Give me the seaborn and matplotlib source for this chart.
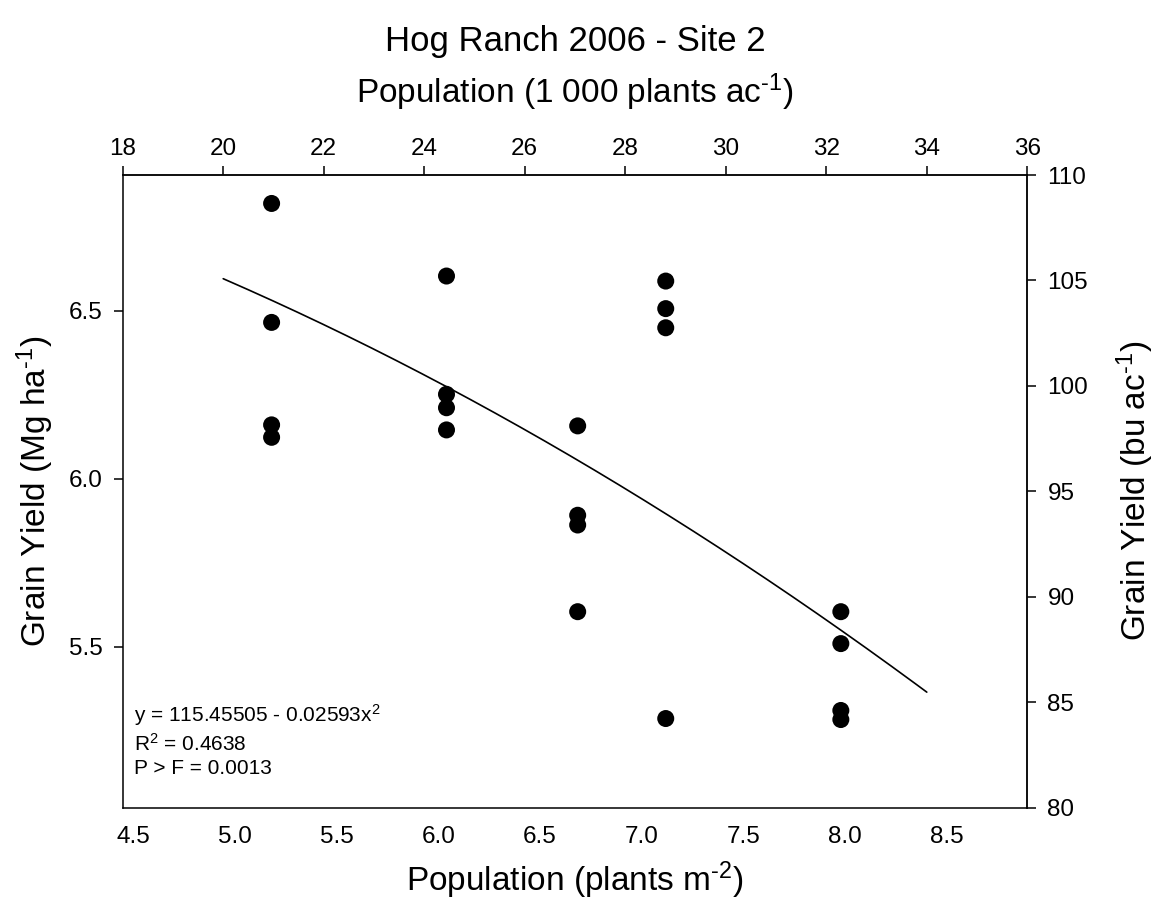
import numpy as np
import pandas as pd
import matplotlib
matplotlib.use("Agg")
import matplotlib.pyplot as plt
import seaborn as sns

# ---------------- data ----------------
pop_m2 = [5.18, 5.18, 5.18, 5.18,
          6.04, 6.04, 6.04, 6.04,
          6.685, 6.685, 6.685, 6.685,
          7.118, 7.118, 7.118, 7.118,
          7.979, 7.979, 7.979, 7.979]
yield_mg = [6.820, 6.466, 6.161, 6.124,
            6.604, 6.252, 6.212, 6.146,
            6.158, 5.892, 5.863, 5.605,
            6.589, 6.507, 6.450, 5.287,
            5.605, 5.510, 5.311, 5.284]

# fitted model printed on the chart: y(bu/ac) = b0 - b2 * x(1000 plants/ac)^2
b0 = 115.45505
b2 = 0.02593
fit_range_kpa = [20.0, 34.0]   # range of the drawn curve, 1000 plants/ac

bottom_ticks = [4.5, 5.0, 5.5, 6.0, 6.5, 7.0, 7.5, 8.0, 8.5]
left_ticks = [5.5, 6.0, 6.5]
top_ticks = [18, 20, 22, 24, 26, 28, 30, 32, 34, 36]
right_ticks = [80, 85, 90, 95, 100, 105, 110]

title = "Hog Ranch 2006 - Site 2"
HY = "\u2010"  # hyphen used in the superscripts
xlabel_bottom = "Population (plants m$^{" + HY + "2}$)"
xlabel_top = "Population (1 000 plants ac$^{" + HY + "1}$)"
ylabel_left = "Grain Yield (Mg ha$^{" + HY + "1}$)"
ylabel_right = "Grain Yield (bu ac$^{" + HY + "1}$)"
eq_lines = ["y = 115.45505 - 0.02593x$^{2}$", "R$^{2}$ = 0.4638", "P > F = 0.0013"]

# unit conversions
M2_TO_KPA = 4.04686      # plants m-2 -> 1000 plants ac-1
BU_TO_MG = 0.06277       # bu ac-1 -> Mg ha-1

# ---------------- style ----------------
sns.set_theme(style="white")
plt.rcParams["font.family"] = ["Liberation Sans", "DejaVu Sans"]
plt.rcParams["mathtext.fontset"] = "custom"
plt.rcParams["mathtext.rm"] = "Liberation Sans"
plt.rcParams["mathtext.it"] = "Liberation Sans:italic"
plt.rcParams["mathtext.bf"] = "Liberation Sans:bold"
plt.rcParams["mathtext.default"] = "regular"
plt.rcParams["axes.unicode_minus"] = False

TICK_FS = 17.5
LABEL_FS = 24
TITLE_FS = 25
TEXT_FS = 15

fig = plt.figure(figsize=(11.58, 9.11), dpi=100)
ax = fig.add_axes([0.10596, 0.11339, 0.78117, 0.69451])

df = pd.DataFrame({"pop": pop_m2, "yield": yield_mg})
sns.scatterplot(data=df, x="pop", y="yield", ax=ax, s=150, color="black",
                edgecolor="none", linewidth=0, zorder=3)

xk = np.linspace(fit_range_kpa[0], fit_range_kpa[1], 200)
curve = pd.DataFrame({"pop": xk / M2_TO_KPA, "yield": (b0 - b2 * xk ** 2) * BU_TO_MG})
sns.lineplot(data=curve, x="pop", y="yield", ax=ax, color="black", linewidth=1.2,
             sort=False, estimator=None)

ax.set_xlim(18 / M2_TO_KPA, 36 / M2_TO_KPA)
ax.set_ylim(80 * BU_TO_MG, 110 * BU_TO_MG)

for s in ax.spines.values():
    s.set_visible(True)
    s.set_color("black")
    s.set_linewidth(1.1)

ax.set_xticks(bottom_ticks)
ax.set_xticklabels([f"{t:.1f}" for t in bottom_ticks])
ax.set_yticks(left_ticks)
ax.set_yticklabels([f"{t:.1f}" for t in left_ticks])
ax.tick_params(axis="x", bottom=True, length=0, pad=13, labelsize=TICK_FS, colors="black")
ax.tick_params(axis="y", left=True, direction="out", length=6.5, width=1.1,
               pad=8, labelsize=TICK_FS, colors="black")

# secondary axes
secx = ax.secondary_xaxis("top", functions=(lambda v: v * M2_TO_KPA, lambda v: v / M2_TO_KPA))
secx.set_xticks(top_ticks)
secx.set_xticklabels([str(t) for t in top_ticks])
secx.tick_params(axis="x", direction="out", length=6.5, width=1.1, pad=4,
                 labelsize=TICK_FS, colors="black")
secx.spines["top"].set_linewidth(1.1)

secy = ax.secondary_yaxis("right", functions=(lambda v: v / BU_TO_MG, lambda v: v * BU_TO_MG))
secy.set_yticks(right_ticks)
secy.set_yticklabels([str(t) for t in right_ticks])
secy.tick_params(axis="y", direction="out", length=6.5, width=1.1, pad=8,
                 labelsize=TICK_FS, colors="black")
secy.spines["right"].set_linewidth(1.1)

# axis labels
ax.set_xlabel(xlabel_bottom, fontsize=LABEL_FS, color="black")
ax.xaxis.label.set_va("center")
ax.xaxis.set_label_coords(0.5, -0.114)

ax.set_ylabel(ylabel_left, fontsize=LABEL_FS, color="black")
ax.yaxis.label.set_va("center")
ax.yaxis.set_label_coords(-0.097, 0.5)

axes_mid_y = 1 - ((175 + 807.7) / 2) / 911
fig.text(0.4965, 1 - 92 / 911, xlabel_top, ha="center", va="center",
         fontsize=LABEL_FS, color="black")
fig.text(1135 / 1158, axes_mid_y, ylabel_right, ha="center", va="center",
         rotation=90, fontsize=LABEL_FS, color="black")

fig.text(0.4965, 1 - 42 / 911, title, ha="center", va="center", fontsize=TITLE_FS, color="black")

for txt, yy in zip(eq_lines, [0.1465, 0.1015, 0.0615]):
    ax.text(0.0125, yy, txt, transform=ax.transAxes, ha="left", va="center",
            fontsize=TEXT_FS, color="black")

fig.savefig("out.png", dpi=100, facecolor="white")
